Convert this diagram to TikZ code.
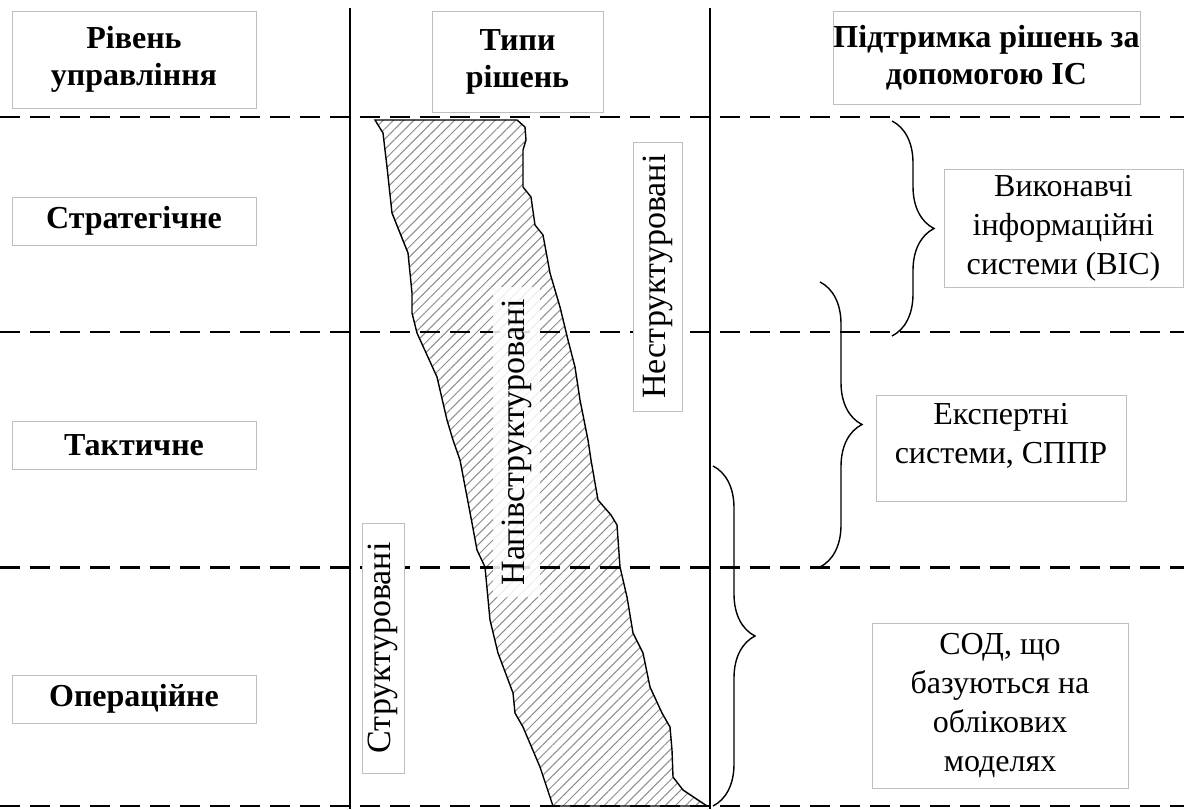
\documentclass[tikz,border=0pt]{standalone}
\usepackage{fontspec}
\setmainfont{Liberation Serif}
\usetikzlibrary{positioning}
\usetikzlibrary{decorations}
\usetikzlibrary{decorations.pathreplacing}
\usetikzlibrary{patterns.meta}

\begin{document}
\begin{tikzpicture}[x=0.5pt, y=-0.5pt,
	framebox/.style={draw=black!25, line width=0.5pt, fill=white, align=center, inner sep=0pt},
	headbox/.style={framebox, font=\fontsize{16}{18.5}\selectfont\bfseries},
	levelbox/.style={framebox, font=\fontsize{16}{19}\selectfont\bfseries, minimum width=122pt, minimum height=24pt},
	infobox/.style={framebox, font=\fontsize{16}{19.5}\selectfont},
	vertbox/.style={framebox, rotate=90, font=\fontsize{17}{20}\selectfont},
	levelline/.style={dash pattern=on 10pt off 5pt, line width=0.9pt},
	colline/.style={line width=1pt},
	rbrace/.style={decorate, decoration={brace, amplitude=21pt}, line width=0.7pt}]
	\useasboundingbox (0,0) rectangle (1184,809);

	% zone of semi-structured decisions
	\draw[line width=0.7pt, preaction={fill=white}, pattern={Lines[angle=45, distance=3.6pt, line width=0.5pt]}, pattern color=black!45]
		(375,120) -- (517,120) -- (525,127) -- (526,140) -- (523,150) -- (523,187) -- (531,197) -- (535,225)
		-- (543,235) -- (550,273) -- (560,307) -- (568,340) -- (575,367) -- (580,400) -- (588,440) -- (591,460)
		-- (598,500) -- (611,515) -- (617,525) -- (620,567) -- (627,597) -- (633,633) -- (643,653) -- (650,687)
		-- (662,713) -- (670,727) -- (672,750) -- (673,777) -- (683,790) -- (707,806) -- (553,806) -- (540,767)
		-- (523,727) -- (515,713) -- (513,693) -- (498,653) -- (490,620) -- (485,567) -- (477,550) -- (472,523)
		-- (460,460) -- (453,440) -- (447,420) -- (440,390) -- (437,377) -- (417,333) -- (412,313) -- (412,293)
		-- (408,253) -- (392,213) -- (387,167) -- (383,133) -- cycle;

	% level borders
	\draw[levelline] (0,117) -- (1184,117);
	\draw[levelline] (0,332) -- (1184,332);
	\draw[levelline, line width=1.5pt] (0,567) -- (1184,567);
	\draw[levelline] (0,806) -- (1184,806);
	\draw[colline] (350,8) -- (350,809);
	\draw[colline] (710,8) -- (710,809);

	% braces
	\coordinate (VIS top) at (892,121);
	\coordinate (VIS bottom) at (892,336);
	\coordinate (ES top) at (820,282);
	\coordinate (ES bottom) at (820,567);
	\coordinate (SOD top) at (713,466);
	\coordinate (SOD bottom) at (713,806);
	\draw[rbrace] (VIS top) -- (VIS bottom);
	\draw[rbrace] (ES top) -- (ES bottom);
	\draw[rbrace] (SOD top) -- (SOD bottom);

	\node[headbox, minimum width=122pt, minimum height=48.5pt] (Level) at (134,59.5) {Рівень\\управління};
	\node[headbox, minimum width=85.5pt, minimum height=50.5pt] (Types) at (517.5,61.5) {Типи\\рішень};
	\node[headbox, minimum width=153.5pt, minimum height=46.5pt] (Support) at (986.5,57.5) {Підтримка рішень за\\допомогою ІС};
	\node[levelbox] (Strategic) at (134,221) {Стратегічне};
	\node[levelbox] (Tactical) at (134,445) {Тактичне};
	\node[levelbox] (Operational) at (134,699) {Операційне};
	\node[vertbox, minimum width=134.5pt, minimum height=24.5pt] (Unstructured) at (657.5,276.5) {Неструктуровані};
	\node[vertbox, draw=none, fill opacity=0.85, text opacity=1, minimum width=155pt, minimum height=23.5pt] (Semistructured) at (516.5,442) {Напівструктуровані};
	\node[vertbox, minimum width=125pt, minimum height=21pt] (Structured) at (383,648) {Структуровані};
	\node[infobox, minimum width=119.5pt, minimum height=59pt] (VIS) at (1063.5,228) {Виконавчі\\інформаційні\\системи (ВІС)};
	\node[infobox, minimum width=125pt, minimum height=53pt, text depth=15pt] (ES) at (1001,448) {Експертні\\системи, СППР};
	\node[infobox, minimum width=128pt, minimum height=82.5pt] (SOD) at (1000,705.5) {СОД, що\\базуються на\\облікових\\моделях};
\end{tikzpicture}
\end{document}
